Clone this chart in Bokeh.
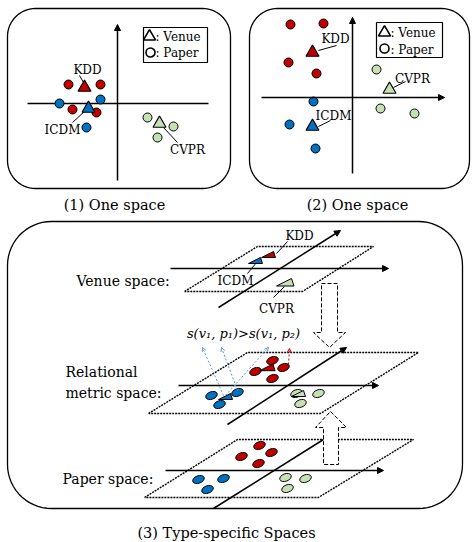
import numpy as np
from bokeh.plotting import figure
from bokeh.models import Range1d, Arrow, NormalHead, OpenHead
from bokeh.core.properties import value
from bokeh.embed import file_html
from bokeh.resources import INLINE

FONT = "DejaVu Serif"
RED, BLUE, GREEN = "#c00000", "#0070c0", "#c5e0b4"
LBLUE = "#5b9bd5"

# ---------------- data ----------------
venues = ["KDD", "ICDM", "CVPR"]
venue_colors = [RED, BLUE, GREEN]

# (1) One space
s1_venue_x = [84, 88, 159]
s1_venue_y = [87, 108, 123]
s1_label_x = [87, 62, 187]
s1_label_y = [69, 129, 149]
s1_paper_x = [[68, 100, 72, 96], [59, 100, 86], [147, 173, 157]]
s1_paper_y = [[84, 84, 109, 112], [103, 99, 127], [117, 126, 137]]
s1_lead = [[(79, 75), (83, 82)], [(72, 122), (85, 110)], [(163, 127), (177, 142)]]

# (2) One space
s2_venue_x = [312, 312, 389]
s2_venue_y = [52, 126, 89]
s2_label_x = [335, 333, 412]
s2_label_y = [38, 115, 78]
s2_paper_x = [[290, 323, 288, 316], [313, 289, 315], [376, 380, 414]]
s2_paper_y = [[24, 23, 62, 73], [101, 124, 148], [69, 108, 113]]
s2_lead = [[(318, 50), (336, 45)], [(318, 126), (330, 120)], [(393, 87), (405, 81)]]

# (3) Type-specific spaces: venue space
vs_venue_x = [269, 256, 286]
vs_venue_y = [255, 261, 283]
vs_label_x = [299, 235, 276]
vs_label_y = [235, 280, 308]
vs_lead = [[(287, 241), (276, 253)], [(247, 273), (256, 262)], [(273, 297), (284, 286)]]

# relational metric space
rs_venue_x = [268, 226, 299]
rs_venue_y = [368, 397, 394]
rs_paper_x = [[255, 272, 283, 272], [211, 237, 219], [296, 318, 300]]
rs_paper_y = [[371, 360, 367, 378], [395, 392, 404], [393, 393, 403]]

# paper space
ps_paper_x = [[259, 271, 241, 258], [198, 223, 207], [285, 305, 287]]
ps_paper_y = [[445, 452, 456, 463], [479, 478, 489], [477, 478, 488]]

# ---------------- figure ----------------
p = figure(width=472, height=542, x_range=Range1d(0, 472), y_range=Range1d(542, 0),
           output_backend="svg", toolbar_location=None, min_border=0,
           x_axis_location=None, y_axis_location=None)
p.grid.visible = False
p.outline_line_color = None
p.background_fill_color = "white"


def rounded(x0, y0, x1, y1, r, n=16):
    xs, ys = [], []
    for cx, cy, a0 in [(x1 - r, y0 + r, -90), (x1 - r, y1 - r, 0), (x0 + r, y1 - r, 90), (x0 + r, y0 + r, 180)]:
        t = np.radians(np.linspace(a0, a0 + 90, n))
        xs += list(cx + r * np.cos(t))
        ys += list(cy + r * np.sin(t))
    xs.append(xs[0]); ys.append(ys[0])
    return xs, ys


def txt(x, y, t, size, align="center", style="normal"):
    p.text(x=x, y=y, text=t, text_font=value(FONT), text_font_size=value(size),
           text_align=align, text_baseline="middle", text_color="black", text_font_style=style)


def arrow(x0, y0, x1, y1, head=7, lw=1.5, color="black", dash="solid", open_head=False):
    if open_head:
        h = OpenHead(size=head, line_color=color, line_width=1)
    else:
        h = NormalHead(size=head, fill_color=color, line_color=color, line_width=1)
    p.add_layout(Arrow(end=h, x_start=x0, y_start=y0, x_end=x1, y_end=y1,
                       line_color=color, line_width=lw, line_dash=dash))


# panel boxes
for (x0, y0, x1, y1, r) in [(7, 8, 230, 188, 28), (249, 8, 469, 188, 28), (7, 221, 462, 508, 44)]:
    bx, by = rounded(x0, y0, x1, y1, r)
    p.line(bx, by, line_color="black", line_width=1.3)

# ---- panel 1 ----
arrow(117, 180, 117, 24, head=6)
p.line([27, 208], [103, 103], line_color="black", line_width=1.5)
p.rect(x=175, y=44.5, width=64, height=35, fill_color="white", line_color="black", line_width=1.2)
p.scatter(x=[149], y=[36], marker="triangle", size=12, fill_color="white", line_color="black", line_width=1.6)
p.scatter(x=[150], y=[52], marker="circle", size=9, fill_color="white", line_color="black", line_width=1.6)
txt([155, 155], [36, 52], [": Venue", ": Paper"], "12px", align="left")
for i in range(3):
    (a, b) = s1_lead[i]
    p.line([a[0], b[0]], [a[1], b[1]], line_color="black", line_width=1)
for i in range(3):
    p.scatter(x=s1_paper_x[i], y=s1_paper_y[i], marker="circle", size=9,
              fill_color=venue_colors[i], line_color="black", line_width=1)
p.scatter(x=s1_venue_x, y=s1_venue_y, marker="triangle", size=13,
          fill_color=venue_colors, line_color="black", line_width=1.2)
txt(s1_label_x, s1_label_y, venues, "12px")
txt([114], [204], ["(1) One space"], "14.5px")

# ---- panel 2 ----
arrow(352, 173, 352, 17, head=6)
arrow(261, 97, 444, 97, head=6)
p.rect(x=409, y=39.5, width=66, height=35, fill_color="white", line_color="black", line_width=1.2)
p.scatter(x=[384], y=[32], marker="triangle", size=12, fill_color="white", line_color="black", line_width=1.6)
p.scatter(x=[384], y=[48], marker="circle", size=9, fill_color="white", line_color="black", line_width=1.6)
txt([390, 390], [32, 49], [": Venue", ": Paper"], "12px", align="left")
for i in range(3):
    (a, b) = s2_lead[i]
    p.line([a[0], b[0]], [a[1], b[1]], line_color="black", line_width=1)
for i in range(3):
    p.scatter(x=s2_paper_x[i], y=s2_paper_y[i], marker="circle", size=9,
              fill_color=venue_colors[i], line_color="black", line_width=1)
p.scatter(x=s2_venue_x, y=s2_venue_y, marker="triangle", size=13,
          fill_color=venue_colors, line_color="black", line_width=1.2)
txt(s2_label_x, s2_label_y, venues, "12px")
txt([357], [204], ["(2) One space"], "14.5px")

# ---- panel 3 ----
DOT = "2 1"


def plane(tl, tr, br, bl):
    p.line([bl[0], tl[0], tr[0], br[0], bl[0]], [bl[1], tl[1], tr[1], br[1], bl[1]],
           line_color="black", line_width=1.4, line_dash=DOT)


TRI_DX = [-8, 4, 6]
TRI_DY = [2, -4, 2]


def flat_tris(cx, cy, scales):
    xs = [[x + s * d for d in TRI_DX] for x, s in zip(cx, scales)]
    ys = [[y + s * d for d in TRI_DY] for y, s in zip(cy, scales)]
    p.patches(xs, ys, fill_color=venue_colors, line_color="black", line_width=1)


def ellipses(xs, ys):
    for i in range(3):
        p.ellipse(x=xs[i], y=ys[i], width=12, height=7.5, angle=0.35,
                  fill_color=venue_colors[i], line_color="black", line_width=1)


# venue space
plane((257, 246), (373, 246), (302, 291), (184, 291))
arrow(170, 268, 388, 268, head=6)
arrow(218, 307, 340, 230, head=6)
for i in range(3):
    (a, b) = vs_lead[i]
    p.line([a[0], b[0]], [a[1], b[1]], line_color="black", line_width=1)
flat_tris(vs_venue_x, vs_venue_y, [1.0, 1.0, 1.25])
txt(vs_label_x, vs_label_y, venues, "12px")
txt([76], [280], ["Venue space:"], "14px", align="left")

# relational metric space
plane((247, 352), (418, 352), (320, 413), (148, 413))
arrow(178, 385, 378, 385, head=6)
arrow(227, 424, 346, 347, head=6)
ellipses(rs_paper_x, rs_paper_y)
flat_tris(rs_venue_x, rs_venue_y, [1.1, 1.0, 1.0])
for (x0, y0, x1, y1) in [(223, 395, 202, 347), (237, 390, 221, 347), (225, 395, 268, 347)]:
    arrow(x0, y0, x1, y1, head=4, lw=1, color=LBLUE, dash="2 2", open_head=True)
arrow(288, 364, 289, 348, head=4, lw=1, color=RED, dash="2 2", open_head=True)
txt([243], [333], ["s(v\u2081, p\u2081)>s(v\u2081, p\u2082)"], "13px", style="italic")
txt([65, 65], [371, 392], ["Relational", "metric space:"], "14px", align="left")

# paper space
plane((237, 439), (413, 439), (318, 497), (144, 497))
arrow(165, 470, 383, 470, head=6)
p.line([213, 323], [508, 439], line_color="black", line_width=1.5)
ellipses(ps_paper_x, ps_paper_y)
txt([62], [478], ["Paper space:"], "14px", align="left")

# block arrows (dashed)
p.patch([321, 337, 337, 345, 329, 313, 321, 321], [283, 283, 332, 332, 347, 332, 332, 283],
        fill_color="white", line_color="black", line_width=1, line_dash="4 2")
p.patch([330, 346, 338, 338, 323, 323, 315, 330], [411, 427, 427, 464, 464, 427, 427, 411],
        fill_color="white", line_color="black", line_width=1, line_dash="4 2")

txt([226], [532], ["(3) Type-specific Spaces"], "14.5px")

open("out.html", "w").write(file_html(p, INLINE))
